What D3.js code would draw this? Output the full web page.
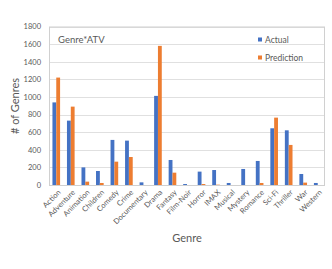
<!DOCTYPE html>
<html>
<head>
<meta charset="utf-8">
<script src="https://cdn.jsdelivr.net/npm/d3@7"></script>
<style>
  body { margin: 0; background: #fff; }
  svg text { font-family: Lato, "Open Sans", sans-serif; fill: #595959; }
</style>
</head>
<body>
<svg id="chart" width="332" height="269"></svg>
<script>
const genres = ["Action", "Adventure", "Animation", "Children", "Comedy", "Crime", "Documentary",
  "Drama", "Fantasy", "Film-Noir", "Horror", "IMAX", "Musical", "Mystery", "Romance",
  "Sci-Fi", "Thriller", "War", "Western"]
const actual = [938, 731, 200, 159, 512, 504, 30, 1012, 284, 11, 152, 170, 23, 182, 273, 644, 621, 125, 23]
const prediction = [1220, 890, 38, 23, 265, 318, 0, 1580, 140, 0, 11, 4, 0, 0, 23, 765, 455, 27, 0]
const series = ["Actual", "Prediction"]
const colors = ["#4472c4", "#ed7d31"]
const yTicks = [0, 200, 400, 600, 800, 1000, 1200, 1400, 1600, 1800]

const margin = {top: 26.5, right: 7, bottom: 84, left: 49}
const width = 332, height = 269
const svg = d3.select("#chart")

const x0 = d3.scaleBand()
    .domain(genres)
    .range([margin.left, width - margin.right])

const x1 = d3.scaleBand()
    .domain(series)
    .range([0, x0.bandwidth()])
    .paddingInner(0)
    .paddingOuter(0.9)

const y = d3.scaleLinear()
    .domain([0, 1800])
    .range([height - margin.bottom, margin.top])

// gridlines
svg.append("g")
  .selectAll("line")
  .data(yTicks)
  .join("line")
    .attr("x1", margin.left)
    .attr("x2", width - margin.right)
    .attr("y1", d => Math.round(y(d)) + 0.5)
    .attr("y2", d => Math.round(y(d)) + 0.5)
    .attr("stroke", "#e0e0e0")

// plot border
svg.append("rect")
    .attr("x", margin.left + 0.5)
    .attr("y", margin.top + 0.5)
    .attr("width", width - margin.right - margin.left - 1)
    .attr("height", height - margin.bottom - margin.top)
    .attr("fill", "none")
    .attr("stroke", "#d0d0d0")

// bars
const rows = genres.map((g, i) => ({genre: g, values: [actual[i], prediction[i]]}))
svg.append("g")
  .selectAll("g")
  .data(rows)
  .join("g")
    .attr("transform", d => `translate(${x0(d.genre)},0)`)
  .selectAll("rect")
  .data(d => d.values.map((v, j) => ({key: series[j], value: v, color: colors[j]})))
  .join("rect")
    .attr("x", d => x1(d.key))
    .attr("width", x1.bandwidth())
    .attr("y", d => y(d.value))
    .attr("height", d => y(0) - y(d.value))
    .attr("fill", d => d.color)

// y axis
const yAxis = svg.append("g")
    .attr("transform", `translate(${margin.left - 8},0)`)
    .call(d3.axisLeft(y).tickValues(yTicks).tickFormat(d3.format("d")).tickSize(0).tickPadding(0))
yAxis.select(".domain").remove()
yAxis.selectAll("text").attr("font-size", 7.5)

// x axis
const xAxis = svg.append("g")
    .attr("transform", `translate(0,${height - margin.bottom})`)
    .call(d3.axisBottom(x0).tickSize(0))
xAxis.select(".domain").remove()
xAxis.selectAll("text")
    .attr("font-size", 7.5)
    .attr("text-anchor", "end")
    .attr("x", 0)
    .attr("y", 0)
    .attr("dy", "0.35em")
    .attr("transform", "translate(3,6) rotate(-45)")

// axis titles
svg.append("text")
    .attr("x", (margin.left + width - margin.right) / 2)
    .attr("y", 242)
    .attr("text-anchor", "middle")
    .attr("font-size", 11)
    .text("Genre")

svg.append("text")
    .attr("transform", `translate(19,106) rotate(-90)`)
    .attr("text-anchor", "middle")
    .attr("font-size", 11)
    .text("# of Genres")

// chart title inside plot
svg.append("text")
    .attr("x", 58)
    .attr("y", 43)
    .attr("font-size", 9.5)
    .text("Genre*ATV")

// legend
const legend = svg.append("g")
  .selectAll("g")
  .data(series)
  .join("g")
    .attr("transform", (d, i) => `translate(258,${37.5 + i * 18})`)
legend.append("rect")
    .attr("width", 4)
    .attr("height", 4)
    .attr("fill", (d, i) => colors[i])
legend.append("text")
    .attr("x", 7)
    .attr("y", 5)
    .attr("font-size", 8.5)
    .text(d => d)
</script>
</body>
</html>
